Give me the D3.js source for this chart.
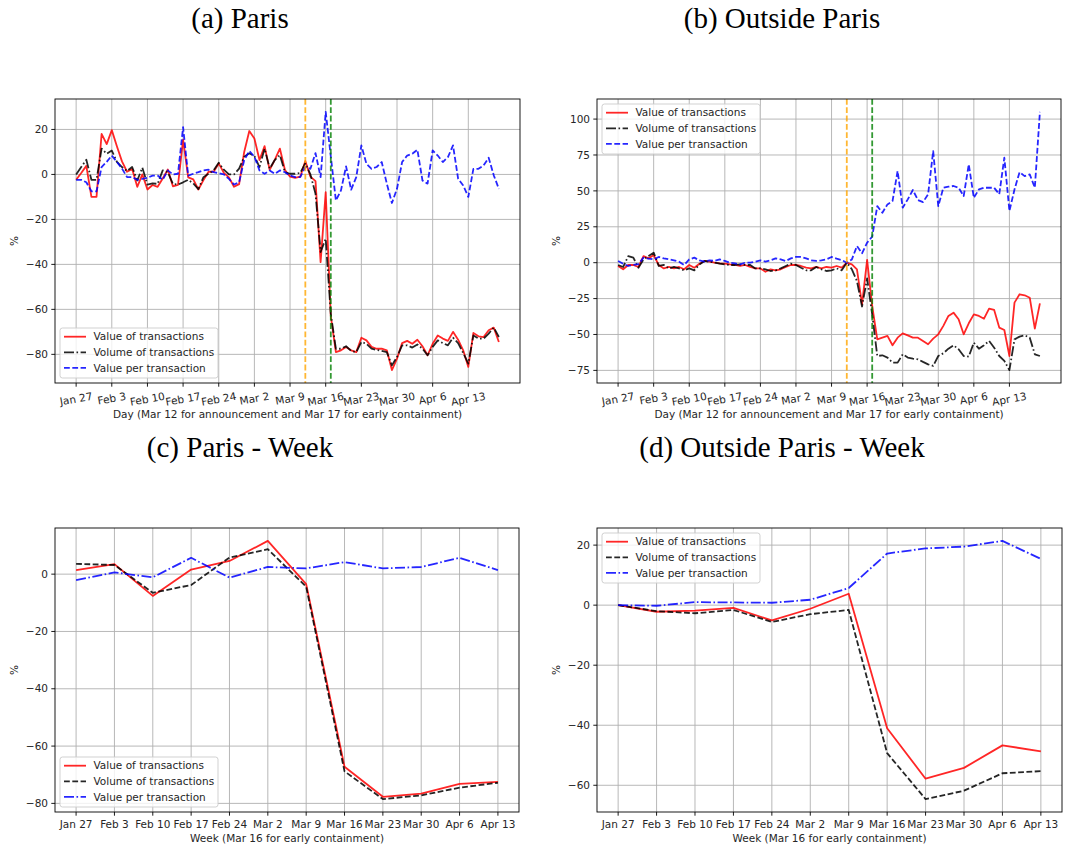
<!DOCTYPE html>
<html>
<head>
<meta charset="utf-8">
<script src="https://cdn.jsdelivr.net/npm/d3@7"></script>
<style>
  body { margin: 0; background: #fff; }
  svg { display: block; }
  text { font-family: "DejaVu Sans", sans-serif; }
</style>
</head>
<body>
<svg id="fig" width="1066" height="848"></svg>
<script>
// ---------- data ----------
// Daily series start on Jan 27 (index 0) and run to Apr 19 (index 83).
const dayTickIndex = [0, 7, 14, 21, 28, 35, 42, 49, 56, 63, 70, 77];
const dayTickLabels = ["Jan 27", "Feb 3", "Feb 10", "Feb 17", "Feb 24", "Mar 2",
  "Mar 9", "Mar 16", "Mar 23", "Mar 30", "Apr 6", "Apr 13"];
const weekLabels = ["Jan 27", "Feb 3", "Feb 10", "Feb 17", "Feb 24", "Mar 2",
  "Mar 9", "Mar 16", "Mar 23", "Mar 30", "Apr 6", "Apr 13"];
const announcementDay = 45;   // Mar 12
const containmentDay = 50;    // Mar 17

const seriesNames = ["Value of transactions", "Volume of transactions", "Value per transaction"];

const parisDailyValue = [
  -2.4, 0.6, 3.8, -10, -10, 18, 13.5, 19.7, 12.5, 5.8,
  1.2, 2.4, -5.5, 0, -6.7, -4.7, -5.5, -1.8, 2.2, -5.3,
  -4.7, 15.5, -1.3, -2.2, -6.7, -2.5, 1.2, 1.2, 4.9, 0.7,
  -1.3, -5.5, -4.3, 10, 19.3, 16, 6.4, 12.6, 2, 6.5,
  11.5, 2, -1, -1.5, -1, 6, -1, -3, -39, -7.9,
  -63, -79, -78.2, -76.7, -78.2, -79, -72.6, -73.8, -76.7, -77.5,
  -77.5, -78.2, -87, -81.9, -75, -74, -75.3, -73.5, -76.4, -80.4,
  -75.3, -71.6, -73, -74, -70, -73.5, -78.2, -85.6, -70.5, -72,
  -72.3, -69.3, -68.1, -74.5];
const parisDailyVolume = [
  0, 3.3, 6.5, -2.4, -2.4, 11.5, 9.2, 10.6, 5.6, 3.3,
  1.5, 3.3, -2.7, 3, -4.5, -4, -4.2, 1.8, 1, -4.2,
  -4.5, -3.5, -2.4, -4, -6.5, -1.2, 0.3, 1.8, 5.2, 2.1,
  0, 0, 2.6, 7.9, 9.4, 8.2, 3.3, 11.5, 2.6, 6.4,
  8.6, 1, 0.3, 0.3, 0.6, 5, 0, -8.6, -34.5, -28.6,
  -62, -77.5, -77.5, -76.4, -78.5, -79, -74.5, -75.3, -77.5, -78,
  -78.5, -79, -84.9, -81.2, -76, -76, -77, -75.6, -77.5, -80.4,
  -76.7, -73.8, -75, -76, -72.6, -75, -79.4, -84.1, -71.6, -73,
  -73, -70.8, -68.1, -72.3];
const parisDailyPerTx = [
  -2.4, -2.4, -3.5, -7.5, -7.5, 3.3, 5.6, 8.4, 5.6, 2.6,
  -1.2, -1.2, -2.4, -2, -1.5, -0.5, -0.5, -2.4, 1.8, 0,
  0.3, 21, -0.5, 0.3, 1, 1.8, 2.1, 1, 0.6, 0,
  -2, -4.5, -3.5, 6.4, 10.4, 7.9, 1.8, 0.3, 1.8, 0.3,
  1.8, 1, -0.5, -1.2, -1.2, 3.3, 2.5, 9.5, -1.2, 27.8,
  8, -11.6, -7.1, 3.6, -6.8, -1.2, 12.9, 4.7, 2.5, 3.3,
  5.5, -4.1, -12.7, -6.4, 5.5, 8.4, 9.2, 11, -2.7, -4.1,
  10.7, 8.4, 5.5, 7.7, 12.9, -1.9, -4.9, -10, 2.5, 2.5,
  4, 7.4, -0.4, -6.4];

const outsideDailyValue = [
  -2.3, -4.6, -1.6, -1.6, -3, 4.6, 3, 5.3, -1.6, -4,
  -3, -4, -3, -4.6, -1.6, -3.5, -0.7, 1.2, 0.7, 0,
  -0.5, -0.7, -1.2, -1.6, -2.3, -1.6, -3, -4, -4, -6.3,
  -4.6, -5.3, -4.6, -3, -1.6, -1.6, -2.3, -3.5, -4, -3,
  -4, -3, -3.5, -2.3, -3.5, 0, -1.2, -4.6, -29, 1.9,
  -30, -53.4, -52.2, -51, -57.5, -52.2, -49.2, -50.6, -52.2, -52.2,
  -54.5, -56.8, -52.9, -49.9, -44, -37.1, -34.8, -39.4, -49.9, -42.2,
  -36, -37.1, -39, -32, -32.9, -45.2, -46.9, -65, -27.8, -22,
  -22.7, -24.4, -45.9, -28.3];
const outsideDailyVolume = [
  -1.6, -3, 4.6, 3.5, -3.5, 2.3, 4.6, 7, -2.3, -1.6,
  -4, -3, -4, -5.3, -4, -5.3, -1.2, 1.2, 0.7, 0,
  -0.7, -1.2, -1.6, -1.6, -1.2, -1.6, -1.6, -4, -4, -4.6,
  -5.8, -5.3, -4, -2.3, -0.7, -1.6, -3.5, -5.3, -5.3, -3,
  -4.6, -5.8, -5.3, -4, -5.3, 0, -4.6, -12.8, -30.5, -11,
  -36, -65, -64.5, -66.1, -69.6, -69.6, -63.8, -66.1, -66.8, -67.3,
  -69.1, -70.8, -71.9, -65, -63.1, -59.9, -57.5, -60.3, -65, -65.4,
  -55.7, -59.9, -57.5, -54.5, -59.2, -65, -68.4, -74.8, -53.4, -51.5,
  -50.6, -52.2, -63.8, -65];
const outsideDailyPerTx = [
  1.2, -0.7, -2.3, -1.6, -1, 3.5, 2.8, 2.3, 4, 3,
  2.3, 1.6, 0.7, -1.6, 2.3, 3.5, 1.6, 0.7, 1.6, 1.2,
  2.3, 1.2, 0, -0.5, -1.2, 0, 0, 0.7, 1.6, 0.7,
  1.6, 3, 2.3, 1.2, 3, 4, 4, 3, 1.6, 1.2,
  1.6, 2.3, 4, 2.8, 1.8, 0, 2.3, 11.6, 6.5, 13.9,
  18.1, 39.4, 34.8, 40.6, 42.9, 63.8, 38.3, 44.1, 50.6, 43.6,
  42.2, 47.6, 77.7, 39.4, 52.2, 52.9, 53.4, 52.2, 46.4, 68.4,
  45.2, 51, 52.2, 52.2, 52.2, 47.6, 73.1, 36, 51, 63.1,
  60.3, 61.5, 52.2, 105];

const parisWeeklyValue  = [1.4, 3.5, -7.6, 1.6, 4.6, 11.6, -3.5, -67.2, -77.7, -76.6, -73.2, -72.5];
const parisWeeklyVolume = [3.6, 3.2, -6.5, -3.8, 5.8, 8.7, -4.4, -68.8, -78.5, -77.2, -74.5, -72.8];
const parisWeeklyPerTx  = [-2.1, 0.6, -1.1, 5.7, -1.2, 2.5, 2.0, 4.2, 2.0, 2.5, 5.7, 1.4];

const outsideWeeklyValue  = [0, -2.2, -1.8, -0.9, -5.1, -1.2, 3.8, -41, -57.8, -54.2, -46.7, -48.7];
const outsideWeeklyVolume = [0, -2.0, -2.7, -1.6, -5.6, -3.0, -1.6, -49.3, -64.6, -61.8, -56, -55.3];
const outsideWeeklyPerTx  = [0, -0.2, 1.0, 0.9, 0.8, 1.8, 5.7, 17.2, 18.9, 19.5, 21.4, 15.4];

const yTicksParisDaily = [-80, -60, -40, -20, 0, 20];
const yTicksOutsideDaily = [-75, -50, -25, 0, 25, 50, 75, 100];
const yTicksParisWeekly = [-80, -60, -40, -20, 0];
const yTicksOutsideWeekly = [-60, -40, -20, 0, 20];

// ---------- styles ----------
const FS = 10.5;
const LW = 1.8;
const DASHED = "5.8,2.5";
const DASHDOT = "10,2.5,1.6,2.5";
const dailyStyles = [
  { color: "#ff0000", dash: null },
  { color: "#000000", dash: DASHDOT },
  { color: "#0000ff", dash: DASHED }
];
const weeklyStyles = [
  { color: "#ff0000", dash: null },
  { color: "#000000", dash: DASHED },
  { color: "#0000ff", dash: DASHDOT }
];

const svg = d3.select("#fig");
svg.append("rect").attr("width", 1066).attr("height", 848).attr("fill", "#fff");

const panels = [
  { title: "(a) Paris", tx: 240, ty: 28, l: 55, r: 520, t: 99, b: 383, daily: true,
    series: [parisDailyValue, parisDailyVolume, parisDailyPerTx], yTicks: yTicksParisDaily,
    legend: "lower", xlabel: "Day (Mar 12 for announcement and Mar 17 for early containment)" },
  { title: "(b) Outside Paris", tx: 782, ty: 28, l: 597, r: 1061, t: 99, b: 383, daily: true,
    series: [outsideDailyValue, outsideDailyVolume, outsideDailyPerTx], yTicks: yTicksOutsideDaily,
    legend: "upper", xlabel: "Day (Mar 12 for announcement and Mar 17 for early containment)" },
  { title: "(c) Paris - Week", tx: 240, ty: 457, l: 55, r: 519, t: 528, b: 812, daily: false,
    series: [parisWeeklyValue, parisWeeklyVolume, parisWeeklyPerTx], yTicks: yTicksParisWeekly,
    legend: "lower", xlabel: "Week (Mar 16 for early containment)" },
  { title: "(d) Outside Paris - Week", tx: 782, ty: 457, l: 597, r: 1062, t: 528, b: 812, daily: false,
    series: [outsideWeeklyValue, outsideWeeklyVolume, outsideWeeklyPerTx], yTicks: yTicksOutsideWeekly,
    legend: "upper", xlabel: "Week (Mar 16 for early containment)" }
];

const fmt = d3.format("d");

function padded(lo, hi) {
  const m = (hi - lo) * 0.05;
  return [lo - m, hi + m];
}

panels.forEach(p => {
  const styles = p.daily ? dailyStyles : weeklyStyles;
  const n = p.series[0].length;
  const x = d3.scaleLinear().domain(padded(0, n - 1)).range([p.l, p.r]);
  const all = p.series.flat();
  const y = d3.scaleLinear().domain(padded(d3.min(all), d3.max(all))).range([p.b, p.t]);

  const xTickIdx = p.daily ? dayTickIndex : d3.range(weekLabels.length);
  const xTickText = p.daily ? dayTickLabels : weekLabels;

  // title
  svg.append("text").attr("x", p.tx).attr("y", p.ty)
    .attr("text-anchor", "middle")
    .style("font-family", "'Liberation Serif', 'Times New Roman', serif")
    .style("font-size", "29px").attr("fill", "#000").text(p.title);

  const g = svg.append("g");

  // grid
  g.append("g").selectAll("line").data(xTickIdx).join("line")
    .attr("x1", d => x(d)).attr("x2", d => x(d)).attr("y1", p.t).attr("y2", p.b)
    .attr("stroke", "#b0b0b0").attr("stroke-width", 0.9);
  g.append("g").selectAll("line").data(p.yTicks).join("line")
    .attr("y1", d => y(d)).attr("y2", d => y(d)).attr("x1", p.l).attr("x2", p.r)
    .attr("stroke", "#b0b0b0").attr("stroke-width", 0.9);

  // clip
  const cid = "clip" + p.l + "_" + p.t;
  svg.append("clipPath").attr("id", cid).append("rect")
    .attr("x", p.l).attr("y", p.t).attr("width", p.r - p.l).attr("height", p.b - p.t);
  const plot = g.append("g").attr("clip-path", `url(#${cid})`);

  const line = d3.line().x((d, i) => x(i)).y(d => y(d));
  p.series.forEach((s, k) => {
    plot.append("path").datum(s).attr("d", line)
      .attr("fill", "none").attr("stroke", styles[k].color)
      .attr("stroke-opacity", 0.85).attr("stroke-width", LW)
      .attr("stroke-linejoin", "round")
      .attr("stroke-dasharray", styles[k].dash);
  });

  if (p.daily) {
    [[announcementDay, "#ffa500"], [containmentDay, "#008000"]].forEach(([d, c]) => {
      plot.append("line").attr("x1", x(d)).attr("x2", x(d)).attr("y1", p.t).attr("y2", p.b)
        .attr("stroke", c).attr("stroke-opacity", 0.8).attr("stroke-width", LW)
        .attr("stroke-dasharray", DASHED);
    });
  }

  // frame
  g.append("rect").attr("x", p.l).attr("y", p.t).attr("width", p.r - p.l).attr("height", p.b - p.t)
    .attr("fill", "none").attr("stroke", "#000").attr("stroke-width", 0.9);

  // y axis ticks
  const yt = g.append("g");
  yt.selectAll("line").data(p.yTicks).join("line")
    .attr("x1", p.l - 3.7).attr("x2", p.l).attr("y1", d => y(d)).attr("y2", d => y(d))
    .attr("stroke", "#000").attr("stroke-width", 0.9);
  yt.selectAll("text").data(p.yTicks).join("text")
    .attr("x", p.l - 7).attr("y", d => y(d)).attr("dy", "0.35em")
    .attr("text-anchor", "end").style("font-size", FS + "px").attr("fill", "#262626")
    .text(d => fmt(d));

  // x axis ticks
  const xt = g.append("g");
  xt.selectAll("line").data(xTickIdx).join("line")
    .attr("y1", p.b).attr("y2", p.b + 3.7).attr("x1", d => x(d)).attr("x2", d => x(d))
    .attr("stroke", "#000").attr("stroke-width", 0.9);
  if (p.daily) {
    const ang = 10 * Math.PI / 180;
    xTickIdx.forEach((d, i) => {
      const t = xt.append("text").style("font-size", FS + "px").attr("fill", "#262626")
        .attr("text-anchor", "middle").attr("dy", "0.35em").text(xTickText[i]);
      const w = t.node().getComputedTextLength();
      const h = FS * 1.16;
      const H = w * Math.sin(ang) + h * Math.cos(ang);
      const cx = x(d), cy = p.b + 7 + H / 2;
      t.attr("x", cx).attr("y", cy).attr("transform", `rotate(-10 ${cx} ${cy})`);
    });
  } else {
    xt.selectAll("text").data(xTickIdx).join("text")
      .attr("x", d => x(d)).attr("y", p.b + 7).attr("dy", "0.82em")
      .attr("text-anchor", "middle").style("font-size", FS + "px").attr("fill", "#262626")
      .text((d, i) => xTickText[i]);
  }

  // axis labels
  const xlY = p.daily ? p.b + 35 : p.b + 30;
  g.append("text").attr("x", (p.l + p.r) / 2).attr("y", xlY)
    .attr("text-anchor", "middle").style("font-size", FS + "px").attr("fill", "#262626")
    .text(p.xlabel);
  const ycx = p.l - 41, ycy = (p.t + p.b) / 2;
  g.append("text").attr("transform", `translate(${ycx},${ycy}) rotate(-90)`)
    .attr("dy", "0.35em").attr("text-anchor", "middle")
    .style("font-size", FS + "px").attr("fill", "#262626").text("%");

  // legend
  const lw = 158, lh = 50;
  const lx = p.l + 5;
  const ly = p.legend === "upper" ? p.t + 5 : p.b - 5 - lh;
  const lg = g.append("g").attr("transform", `translate(${lx},${ly})`);
  lg.append("rect").attr("width", lw).attr("height", lh).attr("rx", 2.5)
    .attr("fill", "#fff").attr("fill-opacity", 0.8).attr("stroke", "#cccccc").attr("stroke-width", 0.9);
  seriesNames.forEach((name, k) => {
    const yy = 8.7 + k * 15.6;
    lg.append("line").attr("x1", 4).attr("x2", 26).attr("y1", yy).attr("y2", yy)
      .attr("stroke", styles[k].color).attr("stroke-opacity", 0.85).attr("stroke-width", LW)
      .attr("stroke-dasharray", styles[k].dash);
    lg.append("text").attr("x", 33.5).attr("y", yy).attr("dy", "0.35em")
      .style("font-size", FS + "px").attr("fill", "#262626").text(name);
  });
});
</script>
</body>
</html>
